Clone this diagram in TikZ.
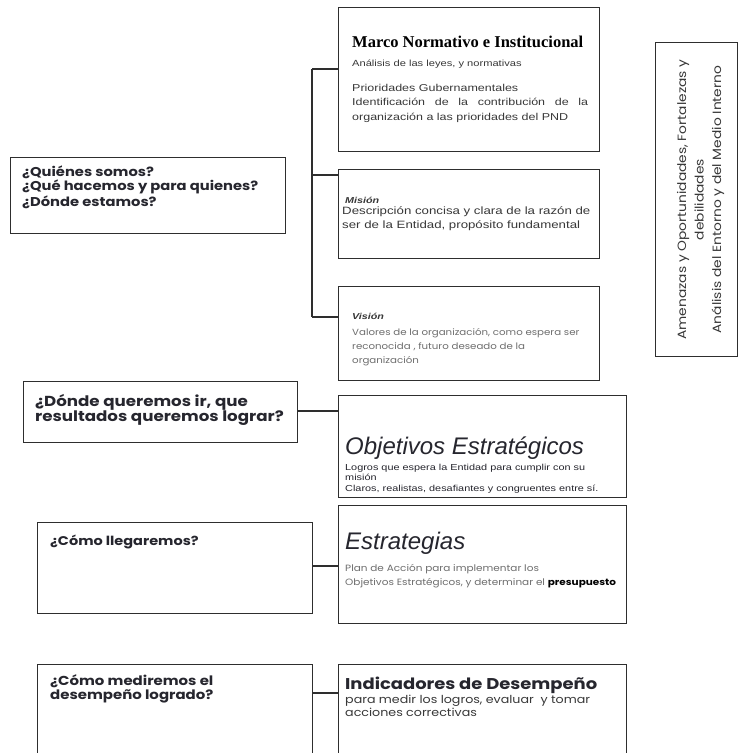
\documentclass[tikz,border=0pt]{standalone}
\usepackage{fontspec}
\usetikzlibrary{calc}
\setmainfont{Liberation Sans}
\newfontfamily\gothicw[FakeStretch=1.15]{Poppins}
\newfontfamily\bodyf[FakeStretch=1.25]{Liberation Sans}
\newfontfamily\timesf{Liberation Serif}
\definecolor{boxline}{HTML}{2E2E2E}
\definecolor{qtext}{HTML}{26262E}
\definecolor{bodytext}{HTML}{383838}
\definecolor{lighttext}{HTML}{6E6E6E}
\begin{document}
\begin{tikzpicture}[x=1pt,y=-1pt,
  panel/.style={draw=boxline, line width=1.1pt, fill=white, inner sep=0pt, anchor=north west},
  link/.style={draw=boxline, line width=1.1pt},
  txt/.style={anchor=base west, inner sep=0pt, align=left},
  question/.style={txt, text=qtext, font=\gothicw\bfseries\fontsize{#1}{14}\selectfont},
  body/.style={txt, text=bodytext, font=\bodyf\fontsize{#1}{13.8}\selectfont},
  light/.style={txt, text=lighttext, font=\gothicw\fontsize{#1}{13.5}\selectfont}]
\useasboundingbox (0,0) rectangle (739,753);
\fill[white] (0,0) rectangle (739,753);

% right-hand column
\node[panel, minimum width=261, minimum height=144] (marco) at (338,7) {};
\node[panel, minimum width=261, minimum height=89] (mision) at (338,169) {};
\node[panel, minimum width=261, minimum height=94] (vision) at (338,286) {};
\node[panel, minimum width=288, minimum height=102] (objetivos) at (338,395) {};
\node[panel, minimum width=288, minimum height=118] (estrategias) at (338,505) {};
\node[panel, minimum width=288, minimum height=100] (indicadores) at (338,664) {};

% left-hand questions
\node[panel, minimum width=275, minimum height=76] (quienes) at (10,157) {};
\node[panel, minimum width=274, minimum height=61] (donde) at (23,381) {};
\node[panel, minimum width=275, minimum height=91] (llegar) at (37,522) {};
\node[panel, minimum width=275, minimum height=100] (medir) at (37,664) {};

% environment analysis panel
\node[panel, minimum width=82, minimum height=314] (entorno) at (655,42) {};

% bracket joining the three upper panels
\coordinate (spineTop) at (312,69);
\coordinate (spineMid) at (312,175);
\coordinate (spineBot) at (312,317);
\draw[link] (spineTop) -- (spineBot);
\draw[link] (spineTop) -- (marco.west |- spineTop);
\draw[link] (spineMid) -- (mision.west |- spineMid);
\draw[link] (spineBot) -- (vision.west |- spineBot);

% question-to-answer connectors
\coordinate (c1) at (0,411);
\coordinate (c2) at (0,566);
\coordinate (c3) at (0,693);
\draw[link] (donde.east |- c1) -- (objetivos.west |- c1);
\draw[link] (llegar.east |- c2) -- (estrategias.west |- c2);
\draw[link] (medir.east |- c3) -- (indicadores.west |- c3);

% legal framework
\node[txt, font=\timesf\bfseries\fontsize{16.5}{18}\selectfont] (marcoT) at (352,47) {Marco Normativo e Institucional};
\node[body=8.9] (marcoA) at (352,66) {Análisis de las leyes, y normativas};
\node[body=10, font=\bodyf\fontsize{10}{14.5}\selectfont] (marcoB) at (352,120) {Prioridades Gubernamentales\\ \makebox[236pt][s]{Identificación de la contribución de la}\\ organización a las prioridades del PND};

% mission
\node[body=9, font=\bodyf\bfseries\itshape\fontsize{8.6}{10}\selectfont] (misionT) at (345,203) {Misión};
\node[body=10.6, font=\bodyf\fontsize{10.6}{14}\selectfont] (misionB) at (342,228) {Descripción concisa y clara de la razón de\\ ser de la Entidad, propósito fundamental};

% vision
\node[body=9, font=\bodyf\bfseries\itshape\fontsize{8.6}{10}\selectfont] (visionT) at (352,319) {Visión};
\node[light=8.9, font=\gothicw\fontsize{8.9}{14}\selectfont] (visionB) at (352,363) {Valores de la organización, como espera ser\\ reconocida , futuro deseado de la\\ organización};

% strategic objectives
\node[txt, text=qtext, font=\itshape\fontsize{24}{26}\selectfont] (objT) at (345,454) {Objetivos Estratégicos};
\node[body=8.7, text=qtext, font=\bodyf\fontsize{8.7}{10.5}\selectfont] (objB) at (345,491) {Logros que espera la Entidad para cumplir con su\\ misión\\ Claros, realistas, desafiantes y congruentes entre sí.};

% strategies
\node[txt, text=qtext, font=\itshape\fontsize{24}{26}\selectfont] (estT) at (345,549) {Estrategias};
\node[light=9.1] (estB) at (345,585) {Plan de Acción para implementar los\\ Objetivos Estratégicos, y determinar el {\color{black}\bfseries presupuesto}};

% performance indicators
\node[txt, text=qtext, font=\gothicw\bfseries\fontsize{15.6}{17}\selectfont] (indT) at (345,689) {Indicadores de Desempeño};
\node[light=11, text=bodytext, font=\gothicw\fontsize{11}{13}\selectfont] (indB) at (345,716) {para medir los logros, evaluar \ y tomar\\ acciones correctivas};

% guiding questions
\node[question=12.8] (quienesT) at (22,206) {¿Quiénes somos?\\ ¿Qué hacemos y para quienes?\\ ¿Dónde estamos?};
\node[question=14.5, font=\gothicw\bfseries\fontsize{14.5}{15}\selectfont] (dondeT) at (35,421) {¿Dónde queremos ir, que\\ resultados queremos lograr?};
\node[question=12.6] (llegarT) at (50,545) {¿Cómo llegaremos?};
\node[question=13] (medirT) at (50,699) {¿Cómo mediremos el\\ desempeño logrado?};

% SWOT note, set vertically
\node[rotate=90, inner sep=0pt, text=bodytext, align=center, font=\gothicw\fontsize{12}{17.5}\selectfont] (entornoT) at ($(entorno.center)+(4,0)$) {Amenazas y Oportunidades, Fortalezas y\\ debilidades\\ Análisis del Entorno y del Medio Interno};
\end{tikzpicture}
\end{document}
